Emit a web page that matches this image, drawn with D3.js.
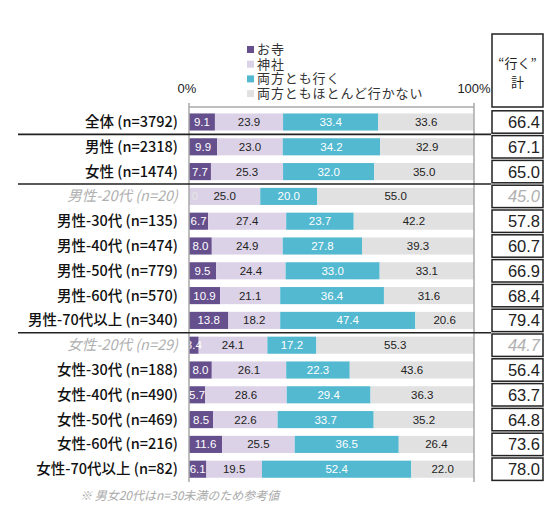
<!DOCTYPE html>
<html><head><meta charset="utf-8">
<script src="https://cdn.jsdelivr.net/npm/d3@7"></script>
<style>body{margin:0;background:#fff}svg{display:block}</style>
</head><body>
<svg id="c" width="548" height="525"></svg>
<script>
const categories = ["全体 (n=3792)","男性 (n=2318)","女性 (n=1474)","男性-20代 (n=20)","男性-30代 (n=135)","男性-40代 (n=474)","男性-50代 (n=779)","男性-60代 (n=570)","男性-70代以上 (n=340)","女性-20代 (n=29)","女性-30代 (n=188)","女性-40代 (n=490)","女性-50代 (n=469)","女性-60代 (n=216)","女性-70代以上 (n=82)"];
const reference = [false,false,false,true,false,false,false,false,false,true,false,false,false,false,false];
const temple = [9.1,9.9,7.7,0.0,6.7,8.0,9.5,10.9,13.8,3.4,8.0,5.7,8.5,11.6,6.1];
const shrine = [23.9,23.0,25.3,25.0,27.4,24.9,24.4,21.1,18.2,24.1,26.1,28.6,22.6,25.5,19.5];
const both = [33.4,34.2,32.0,20.0,23.7,27.8,33.0,36.4,47.4,17.2,22.3,29.4,33.7,36.5,52.4];
const rarely = [33.6,32.9,35.0,55.0,42.2,39.3,33.1,31.6,20.6,55.3,43.6,36.3,35.2,26.4,22.0];
const goTotal = [66.4,67.1,65.0,45.0,57.8,60.7,66.9,68.4,79.4,44.7,56.4,63.7,64.8,73.6,78.0];
const seriesNames = ["お寺","神社","両方とも行く","両方ともほとんど行かない"];
const seriesColors = ["#664f8d","#dbd2e7","#53b9d1","#e1e1e1"];
const seriesText = ["#fff","#222","#fff","#222"];
const axisTicks = ["0%","100%"];
const separators = [1,3,9];

const svg = d3.select("#c");
const latin = "'Liberation Sans', Arial, 'Noto Sans CJK JP', sans-serif";
const jp = "'Noto Sans CJK JP', 'Liberation Sans', sans-serif";

const x = d3.scaleLinear().domain([0,100]).range([189,474]);
const y = d3.scaleBand().domain(d3.range(categories.length)).range([109.6, 481.6]).paddingInner(0.31).paddingOuter(0.155);
const bh = y.bandwidth();
const step = y.step();
const cy = i => y(i) + bh/2;

const data = categories.map((c,i)=>({i, vals:[temple[i],shrine[i],both[i],rarely[i]]}));

// bars
data.forEach(d=>{
  let acc = 0;
  const segs = d.vals.map((v,k)=>{const s={k,v,x0:acc,x1:acc+v}; acc+=v; return s;});
  const g = svg.append("g");
  g.selectAll("rect").data(segs).join("rect")
    .attr("x",s=>x(s.x0)).attr("width",s=>x(s.x1)-x(s.x0))
    .attr("y",y(d.i)).attr("height",bh)
    .attr("fill",s=>seriesColors[s.k]);
  g.selectAll("text").data(segs).join("text")
    .attr("x",s=>(x(s.x0)+x(s.x1))/2 + (s.v===0?6:0)).attr("y",cy(d.i)+4)
    .attr("text-anchor","middle")
    .attr("font-family",latin).attr("font-size",11.5)
    .attr("fill",s=> (s.v===0 ? "#e4e4e4" : seriesText[s.k]))
    .text(s=>s.v===0 ? "0" : s.v.toFixed(1));
});

// axis lines
const axisColor = "#a8a8a8";
svg.append("line").attr("x1",x(0)).attr("x2",x(100)).attr("y1",107).attr("y2",107).attr("stroke",axisColor).attr("stroke-width",1.5);
[0,100].forEach(v=>{
  svg.append("line").attr("x1",x(v)).attr("x2",x(v)).attr("y1",103).attr("y2",482).attr("stroke",axisColor).attr("stroke-width",1.5);
});
svg.append("text").attr("x",x(0)-2).attr("y",93).attr("text-anchor","middle").attr("font-family",latin).attr("font-size",13).attr("fill","#222").text(axisTicks[0]);
svg.append("text").attr("x",x(100)).attr("y",93).attr("text-anchor","middle").attr("font-family",latin).attr("font-size",13).attr("fill","#222").text(axisTicks[1]);

// category labels
svg.selectAll("text.cat").data(categories).join("text").attr("class","cat")
  .attr("x",178).attr("y",(c,i)=>cy(i)+5)
  .attr("text-anchor","end")
  .attr("font-family",jp).attr("font-size",14.5)
  .attr("font-weight",(c,i)=>reference[i]?400:500)
  .attr("font-style",(c,i)=>reference[i]?"italic":"normal")
  .attr("fill",(c,i)=>reference[i]?"#b0b0b0":"#111")
  .text(c=>c);

// separators
separators.forEach(s=>{
  const yy = y(s) - (step-bh)/2;
  svg.append("line").attr("x1",18).attr("x2",491).attr("y1",yy).attr("y2",yy).attr("stroke","#222").attr("stroke-width",1.6);
});

// legend
const lg = svg.append("g");
seriesNames.forEach((n,k)=>{
  const ly = 54 + k*14.7;
  lg.append("rect").attr("x",247).attr("y",ly-8).attr("width",7).attr("height",7).attr("fill",seriesColors[k]);
  lg.append("text").attr("x",257).attr("y",ly).attr("font-family",jp).attr("font-size",13).attr("letter-spacing",0.9).attr("fill","#333").text(n);
});

// total column
const bx0 = 492, bx1 = 543;
svg.append("rect").attr("x",bx0).attr("y",34).attr("width",bx1-bx0).attr("height",73).attr("fill","none").attr("stroke","#222").attr("stroke-width",1.5);
svg.append("text").attr("x",(bx0+bx1)/2).attr("y",68).attr("text-anchor","middle").attr("font-family",jp).attr("font-size",13).attr("fill","#222").text("“行く”");
svg.append("text").attr("x",(bx0+bx1)/2).attr("y",87).attr("text-anchor","middle").attr("font-family",jp).attr("font-size",13).attr("fill","#222").text("計");
goTotal.forEach((v,i)=>{
  const top = cy(i) - step/2 + 1.2, h = step - 2.4;
  svg.append("rect").attr("x",bx0).attr("y",top).attr("width",bx1-bx0).attr("height",h).attr("fill","none").attr("stroke","#222").attr("stroke-width",1.5);
  svg.append("text").attr("x",bx1-3).attr("y",cy(i)+6).attr("text-anchor","end")
    .attr("font-family",latin).attr("font-size",16.5)
    .attr("font-style",reference[i]?"italic":"normal")
    .attr("fill",reference[i]?"#b0b0b0":"#222").text(v.toFixed(1));
});

// footnote
svg.append("text").attr("x",80).attr("y",500).attr("font-family",jp).attr("font-size",12).attr("font-style","italic").attr("fill","#aaa").text("※ 男女20代はn=30未満のため参考値");
</script>
</body></html>
